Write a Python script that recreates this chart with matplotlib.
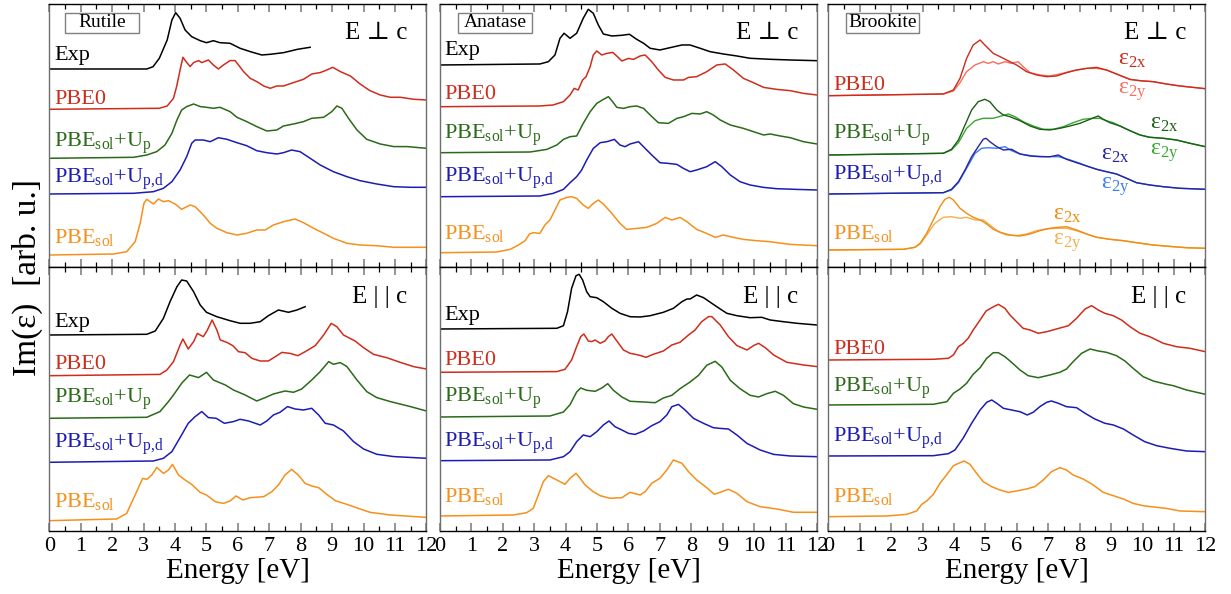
import matplotlib
matplotlib.use("Agg")
import matplotlib.pyplot as plt
from matplotlib.ticker import MultipleLocator
from matplotlib.patches import Rectangle

plt.rcParams["font.family"] = ["Liberation Serif", "DejaVu Serif"]
plt.rcParams["mathtext.fontset"] = "custom"
plt.rcParams["mathtext.rm"] = "Liberation Serif"
plt.rcParams["mathtext.it"] = "Liberation Serif:italic"
plt.rcParams["mathtext.bf"] = "Liberation Serif:bold"

# ---------------------------------------------------------------------------
# Im(eps) spectra, energy in eV, intensity in arbitrary units
# ---------------------------------------------------------------------------

# Rutile, E perpendicular to c
rut_perp_exp_e = [0, 3.1, 3.3, 3.5, 3.75, 3.9, 4.02, 4.16, 4.32, 4.53, 4.8, 5.0, 5.22, 5.43, 5.75, 6.07, 6.4, 6.76, 7.03, 7.45, 7.9, 8.3]
rut_perp_exp_i = [0, 0, 2.3, 10.7, 29, 49, 56.3, 50.7, 39, 32.3, 28.3, 26.3, 28.3, 26.3, 25.7, 20.7, 17.3, 14, 14.7, 16.3, 19.7, 21.7]
rut_perp_pbe0_e = [0, 3.5, 3.75, 3.95, 4.05, 4.16, 4.25, 4.35, 4.48, 4.59, 4.75, 4.85, 5.06, 5.22, 5.38, 5.54, 5.75, 5.91, 6.02, 6.18, 6.39, 6.6, 6.82, 7.03, 7.24, 7.45, 7.77, 8.09, 8.35, 8.62, 8.83, 9.02, 9.26, 9.58, 9.89, 10.2, 10.53, 10.85, 11.17, 11.6, 12]
rut_perp_pbe0_i = [0, 1, 3.3, 11, 22.7, 39.3, 52, 47.7, 42.7, 46.7, 48.7, 46.7, 49.3, 44.3, 40.3, 44.3, 48.7, 48.7, 44.3, 37.7, 31, 27.7, 23.3, 21, 23.3, 23.3, 26.7, 30, 35.3, 36.7, 39.3, 42, 37.7, 33.3, 25.3, 18.7, 14.3, 12, 12, 10, 9.3]
rut_perp_up_e = [0, 2.68, 3.1, 3.42, 3.68, 3.9, 4.06, 4.21, 4.37, 4.59, 4.8, 5.0, 5.22, 5.43, 5.75, 5.97, 6.28, 6.6, 6.92, 7.24, 7.45, 7.77, 8.09, 8.35, 8.73, 8.99, 9.15, 9.31, 9.52, 9.79, 10.1, 10.53, 10.96, 11.38, 12]
rut_perp_up_i = [0, 1, 3.3, 6.7, 13.3, 25, 38.3, 48.3, 51.7, 54.3, 51.7, 51, 50, 51, 46.7, 41, 36.7, 31.7, 27.3, 28.3, 32.3, 34.3, 36.7, 40, 41, 46.7, 52.3, 50, 40, 28.3, 19, 14.3, 11.7, 11.7, 10]
rut_perp_upd_e = [0, 2.68, 3.31, 3.63, 3.9, 4.16, 4.37, 4.53, 4.64, 4.9, 5.12, 5.38, 5.65, 5.97, 6.28, 6.6, 6.92, 7.24, 7.45, 7.71, 7.98, 8.3, 8.62, 9.04, 9.47, 9.89, 10.42, 10.96, 11.5, 12]
rut_perp_upd_i = [0, 0.7, 2.3, 5.7, 12.3, 24, 37.3, 50.7, 54, 54, 52.3, 56.3, 54.7, 51.3, 48.3, 43.3, 41.3, 40, 41.3, 44, 42.3, 35.7, 29, 22.3, 17.3, 13.3, 10, 7.3, 6.7, 6.7]
rut_perp_sol_e = [0, 2.04, 2.46, 2.73, 2.89, 3.01, 3.1, 3.31, 3.47, 3.63, 3.79, 4.0, 4.21, 4.48, 4.64, 4.9, 5.12, 5.33, 5.65, 5.97, 6.28, 6.6, 6.87, 7.13, 7.45, 7.82, 8.09, 8.41, 8.73, 9.04, 9.47, 9.89, 10.42, 10.96, 12]
rut_perp_sol_i = [0, 1, 3.3, 13.3, 31.7, 51.7, 55.7, 51, 56, 53.3, 54.3, 51, 45.7, 50, 48.3, 40, 31.7, 26.7, 22.3, 20, 21.7, 25, 25, 30, 33.3, 36, 32.3, 26.7, 21.7, 16.7, 11.7, 10, 9.3, 7.7, 7.7]

# Rutile, E parallel to c
rut_par_exp_e = [0, 3.1, 3.37, 3.63, 3.84, 4.06, 4.21, 4.37, 4.59, 4.8, 5.0, 5.33, 5.75, 6.07, 6.39, 6.71, 6.97, 7.29, 7.61, 7.88, 8.14]
rut_par_exp_i = [0, 0.7, 4, 16.7, 33.3, 48.3, 55, 54, 43.3, 30, 22.7, 18.3, 14.3, 11.7, 11.7, 13.3, 19.3, 25, 22.7, 25, 28.3]
rut_par_pbe0_e = [0, 3.52, 3.74, 3.95, 4.16, 4.25, 4.42, 4.59, 4.71, 4.9, 5.03, 5.18, 5.33, 5.44, 5.65, 5.84, 6.02, 6.23, 6.45, 6.71, 6.97, 7.19, 7.4, 7.66, 7.91, 8.14, 8.46, 8.73, 8.97, 9.15, 9.36, 9.73, 10.0, 10.32, 10.74, 11.17, 11.6, 12]
rut_par_pbe0_i = [0, 1.3, 5.7, 14, 30.7, 36.7, 26.7, 34, 42.3, 39, 45.7, 55.7, 45.7, 35.7, 33.3, 30, 24, 23, 17.3, 14.7, 14.7, 19, 23.3, 22.3, 20, 24, 30, 40.7, 52.3, 49, 40.7, 34.7, 28, 21.3, 18, 13.3, 9, 6.7]
rut_par_up_e = [0, 3.1, 3.52, 3.79, 3.95, 4.21, 4.46, 4.75, 5.0, 5.22, 5.6, 5.86, 6.23, 6.6, 6.87, 7.13, 7.5, 7.77, 8.03, 8.35, 8.62, 8.89, 9.04, 9.26, 9.47, 9.79, 10.1, 10.42, 10.85, 11.49, 12]
rut_par_up_i = [0, 1, 6.7, 16.7, 23.3, 35, 43.3, 40.7, 46, 38.3, 33.3, 28.3, 23.3, 17.3, 20.7, 24.3, 27.3, 26, 29.3, 38.3, 46.7, 56.7, 54, 55.7, 51.7, 38.3, 26.7, 20.7, 16.7, 11.7, 7.3]
rut_par_upd_e = [0, 3.31, 3.63, 3.9, 4.16, 4.42, 4.64, 4.85, 5.06, 5.31, 5.57, 5.86, 6.07, 6.34, 6.71, 6.92, 7.13, 7.34, 7.58, 7.82, 8.09, 8.35, 8.57, 8.78, 9.04, 9.36, 9.68, 10.0, 10.42, 10.96, 12]
rut_par_upd_i = [0, 1.3, 4, 10.7, 24.7, 39, 45.7, 50.7, 44.7, 44, 39, 40.7, 43, 41.3, 37.3, 41.3, 47.3, 50, 55.7, 53.3, 52.3, 54, 47.3, 39, 37.3, 31.3, 20.7, 13.3, 8, 5.7, 4]
rut_par_sol_e = [0, 2.14, 2.46, 2.73, 2.97, 3.1, 3.26, 3.42, 3.63, 3.79, 3.92, 4.11, 4.32, 4.53, 4.8, 5.0, 5.28, 5.54, 5.75, 5.94, 6.16, 6.39, 6.82, 7.08, 7.29, 7.5, 7.71, 7.92, 8.14, 8.35, 8.57, 8.83, 9.1, 9.47, 9.89, 10.21, 10.85, 12]
rut_par_sol_i = [0, 1.7, 7.3, 25.7, 42.3, 41.3, 45.7, 53.3, 47.3, 50.7, 56.3, 45.7, 40.7, 36.3, 28.3, 25.7, 19, 17.3, 19.7, 24.7, 20.7, 23, 24, 29, 35.7, 45.7, 51.3, 45.7, 37.3, 34.7, 33, 26.3, 20, 16.3, 11.7, 8.3, 5.7, 3.3]

# Anatase, E perpendicular to c
ana_perp_exp_e = [0, 3.18, 3.45, 3.66, 3.82, 3.95, 4.14, 4.35, 4.56, 4.72, 4.88, 5.04, 5.2, 5.47, 5.79, 6.03, 6.26, 6.48, 6.69, 7.0, 7.32, 7.7, 7.96, 8.28, 8.6, 9.02, 9.45, 9.87, 10.5, 11.15, 12]
ana_perp_exp_i = [0, 1, 3.3, 10, 26.7, 31.7, 26.7, 31.7, 46.7, 55.7, 51.7, 40, 31, 29, 29.7, 30.7, 25.7, 21.7, 16.7, 15, 17.3, 20, 20, 16.7, 13.3, 11, 9, 6.7, 5.7, 5, 4.3]
ana_perp_pbe0_e = [0, 3.18, 3.6, 3.93, 4.14, 4.27, 4.4, 4.54, 4.65, 4.78, 4.88, 4.99, 5.15, 5.31, 5.5, 5.65, 5.79, 6.0, 6.16, 6.37, 6.53, 6.74, 6.95, 7.17, 7.43, 7.75, 7.91, 8.17, 8.49, 8.81, 9.08, 9.34, 9.66, 9.98, 10.3, 10.72, 11.15, 11.57, 12]
ana_perp_pbe0_i = [0, 0.7, 1.7, 5, 11.7, 18.3, 16.7, 26.7, 30, 40, 51.7, 55.7, 51.7, 53.3, 54.3, 50, 45.7, 48.3, 47.3, 50.7, 51.7, 45, 36.7, 29.3, 26.7, 26.7, 29.3, 30, 35, 41.7, 42.7, 36.7, 28.3, 24, 19.3, 17.3, 16, 13.3, 11.7]
ana_perp_up_e = [0, 2.87, 3.4, 3.72, 3.93, 4.14, 4.35, 4.56, 4.78, 4.99, 5.2, 5.36, 5.47, 5.63, 5.84, 6.05, 6.26, 6.48, 6.69, 6.95, 7.27, 7.54, 7.75, 8.02, 8.28, 8.49, 8.7, 8.92, 9.24, 9.66, 9.98, 10.3, 10.51, 10.83, 11.15, 11.57, 12]
ana_perp_up_i = [0, 0.7, 3.3, 7.7, 13.3, 16, 16.7, 29.3, 41, 49.3, 53.3, 56, 52, 45.3, 44.3, 46, 46.7, 44.3, 37.7, 30, 29.3, 34.3, 36, 39.3, 38.7, 41, 37.7, 32.7, 27.7, 24.3, 21, 17.7, 18.7, 16.7, 15, 11, 8.7]
ana_perp_upd_e = [0, 3.18, 3.6, 3.93, 4.14, 4.35, 4.51, 4.67, 4.88, 5.1, 5.31, 5.55, 5.73, 5.89, 6.05, 6.32, 6.53, 6.74, 7.0, 7.27, 7.54, 7.75, 7.96, 8.17, 8.49, 8.76, 8.97, 9.24, 9.55, 9.87, 10.3, 10.72, 11.36, 12]
ana_perp_upd_i = [0, 0.7, 3.3, 7.3, 14, 20, 26.7, 36.7, 48.3, 54, 55, 57.3, 51.7, 50, 52.7, 55, 48.3, 41.7, 34, 33.3, 32.3, 28.3, 25, 26.7, 30, 35, 30, 21.7, 15, 11.7, 9.3, 8, 7.3, 6.7]
ana_perp_sol_e = [0, 1.8, 2.23, 2.5, 2.71, 2.85, 2.97, 3.18, 3.34, 3.5, 3.66, 3.82, 4.03, 4.19, 4.35, 4.56, 4.72, 4.88, 5.04, 5.2, 5.47, 5.73, 5.94, 6.26, 6.58, 6.9, 7.17, 7.38, 7.64, 7.86, 8.17, 8.49, 8.76, 9.02, 9.34, 9.66, 10.08, 10.5, 11.15, 12]
ana_perp_sol_i = [0, 0.7, 3.3, 7.7, 12, 18.7, 20, 19.3, 27.7, 32.7, 42.7, 52.7, 55.3, 56, 54.3, 47.7, 44.3, 49.3, 52.7, 48.7, 39.3, 29.3, 23.3, 24.3, 25.3, 29.3, 35.3, 32.7, 35.3, 31, 23.3, 19.3, 15.3, 17.7, 15.3, 13.3, 12, 11, 8.3, 7]

# Anatase, E parallel to c
ana_par_exp_e = [0, 3.72, 3.93, 4.06, 4.19, 4.33, 4.43, 4.54, 4.67, 4.78, 4.99, 5.2, 5.47, 5.73, 6.05, 6.37, 6.69, 7.11, 7.43, 7.7, 7.86, 7.96, 8.17, 8.39, 8.65, 8.92, 9.13, 9.45, 9.87, 10.24, 10.51, 10.93, 11.36, 12]
ana_par_exp_i = [0, 0.7, 3.3, 17.3, 40.7, 53.3, 54.7, 49, 37.3, 32.3, 31.3, 27.3, 20.7, 15.7, 12.3, 12, 13.3, 16.7, 20.7, 27.3, 30, 30, 34, 31.3, 25.7, 20, 15.7, 13.3, 11.3, 11.7, 9, 7.3, 5.7, 4]
ana_par_pbe0_e = [0, 3.72, 3.98, 4.19, 4.35, 4.48, 4.58, 4.72, 4.83, 4.94, 5.1, 5.25, 5.36, 5.47, 5.63, 5.84, 6.05, 6.32, 6.56, 6.79, 7.11, 7.38, 7.64, 7.91, 8.12, 8.33, 8.55, 8.65, 8.92, 9.18, 9.45, 9.77, 9.98, 10.14, 10.35, 10.62, 11.04, 11.57, 12]
ana_par_pbe0_i = [0, 0.7, 3, 12.3, 25.7, 35.7, 38.3, 31.3, 30.7, 32.3, 29, 31.3, 35.7, 38.3, 31.3, 22.3, 19, 17.3, 15, 18, 21.3, 27.3, 30, 37.3, 42.3, 50.7, 55.7, 55.7, 47.3, 35.7, 26.7, 22.3, 26.7, 29, 24.7, 17.3, 10, 7.3, 5.7]
ana_par_up_e = [0, 3.5, 3.93, 4.14, 4.35, 4.48, 4.67, 4.94, 5.15, 5.34, 5.52, 5.79, 6.05, 6.48, 6.85, 7.11, 7.38, 7.64, 7.96, 8.23, 8.49, 8.76, 8.97, 9.24, 9.55, 9.87, 10.14, 10.4, 10.67, 10.93, 11.25, 11.57, 12]
ana_par_up_i = [0, 1, 5, 12.3, 25, 29, 26.7, 25.7, 29, 33.3, 26.7, 20, 15.7, 15, 14.3, 19, 21.7, 28.3, 35, 41.7, 51.7, 55.7, 50, 36.7, 28.3, 21.7, 20, 23.3, 25.7, 21.7, 13.3, 10, 7.7]
ana_par_upd_e = [0, 3.5, 3.93, 4.14, 4.35, 4.56, 4.78, 4.99, 5.2, 5.38, 5.57, 5.79, 6.0, 6.21, 6.48, 6.74, 7.0, 7.22, 7.38, 7.59, 7.8, 8.07, 8.39, 8.7, 8.92, 9.18, 9.45, 9.77, 10.19, 10.62, 11.15, 12]
ana_par_upd_i = [0, 0.7, 4, 9, 19, 25.7, 24, 29, 35.7, 39.7, 34, 30.7, 27.3, 26.3, 29.7, 35, 39, 45.7, 54, 56.3, 50.7, 42.3, 37.3, 33, 32.3, 31.7, 25.7, 17.3, 10.7, 6.3, 4.7, 4]
ana_par_sol_e = [0, 2.34, 2.76, 2.97, 3.13, 3.29, 3.45, 3.72, 3.98, 4.14, 4.33, 4.46, 4.62, 4.88, 5.1, 5.41, 5.79, 6.05, 6.37, 6.53, 6.74, 7.0, 7.22, 7.43, 7.7, 7.91, 8.17, 8.49, 8.73, 8.92, 9.18, 9.45, 9.77, 10.19, 10.72, 11.25, 12]
ana_par_sol_i = [0, 1, 3.3, 7.7, 21, 34.3, 40.3, 36, 31.7, 37.7, 42.7, 37.7, 31, 24.3, 20.3, 17.7, 18.3, 23.7, 21, 24.3, 32.7, 37.7, 46, 56, 52.7, 44.3, 36, 28.3, 21.7, 23.7, 26.7, 22.7, 14.3, 9.3, 7, 3.7, 3.7]

# Brookite, E perpendicular to c: eps_2x and eps_2y components
bro_perp_pbe0x_e = [0, 3.66, 3.98, 4.19, 4.4, 4.61, 4.83, 4.98, 5.25, 5.51, 5.78, 5.99, 6.31, 6.63, 6.95, 7.26, 7.58, 7.9, 8.22, 8.54, 8.85, 9.17, 9.6, 9.92, 10.34, 10.76, 11.19, 11.61, 12]
bro_perp_pbe0x_i = [0, 1.7, 5.7, 17.3, 37.3, 50.7, 55.7, 50.7, 42.3, 38.3, 34, 30.7, 24, 20.7, 19, 19.7, 23, 25.7, 27.3, 28.3, 25.7, 21.7, 16.3, 15, 14, 11.7, 9.7, 8.3, 7]
bro_perp_pbe0y_e = [0, 3.66, 3.98, 4.19, 4.4, 4.67, 4.93, 5.09, 5.25, 5.41, 5.62, 5.83, 6.04, 6.2, 6.42, 6.73, 7.05, 7.37, 7.79, 8.22, 8.54, 8.85, 9.17, 9.6, 9.92, 10.34, 10.76, 11.19, 11.61, 12]
bro_perp_pbe0y_i = [0, 1.7, 4.7, 13, 24, 30.7, 34, 32.3, 34, 31.7, 34, 32.3, 34, 29, 23, 20.7, 19.7, 21.7, 25, 27.3, 27.3, 25.7, 21.7, 16.3, 15, 14, 11.7, 9.7, 8.3, 7]
bro_perp_upx_e = [0, 3.66, 3.92, 4.14, 4.35, 4.56, 4.77, 4.98, 5.14, 5.36, 5.57, 5.78, 6.1, 6.42, 6.73, 7.05, 7.37, 7.69, 8.01, 8.27, 8.48, 8.59, 8.75, 8.96, 9.28, 9.6, 9.92, 10.23, 10.66, 11.08, 11.51, 12]
bro_perp_upx_i = [0, 1.7, 5.7, 15, 30, 45, 53.3, 55.7, 53.3, 45, 40, 38.3, 34.3, 29, 25.7, 25, 26.7, 29, 31.7, 35, 37.7, 39, 35.7, 32.3, 29, 24.3, 20, 17.7, 16.7, 15, 11.7, 8.3]
bro_perp_upy_e = [0, 3.66, 3.92, 4.14, 4.4, 4.67, 4.93, 5.25, 5.51, 5.73, 5.94, 6.2, 6.52, 6.84, 7.16, 7.48, 7.79, 8.11, 8.43, 8.64, 8.85, 9.07, 9.28, 9.6, 9.92, 10.23, 10.66, 11.08, 11.51, 12]
bro_perp_upy_i = [0, 1.7, 5, 12.3, 26.7, 34.3, 36.7, 36.7, 39, 41, 38.3, 33.3, 29, 25.7, 25.7, 28.3, 32.3, 35.7, 36.7, 36.7, 34.3, 32.3, 29, 24.3, 20, 17.7, 16.7, 15, 11.7, 8.3]
bro_perp_updx_e = [0, 3.66, 3.92, 4.14, 4.35, 4.56, 4.77, 4.93, 5.02, 5.14, 5.36, 5.57, 5.83, 6.1, 6.42, 6.73, 7.05, 7.32, 7.58, 7.9, 8.22, 8.54, 8.85, 9.17, 9.49, 9.81, 10.23, 10.66, 11.19, 12]
bro_perp_updx_i = [0, 1.3, 4.7, 12.3, 24, 37.3, 47.3, 54.7, 55.7, 52.3, 47.3, 44, 44.7, 40, 38, 37.3, 37.3, 39, 34.7, 31.3, 28, 24.7, 22.3, 20, 15.7, 11.3, 9, 7.3, 5.7, 4.7]
bro_perp_updy_e = [0, 3.66, 3.92, 4.14, 4.4, 4.67, 4.88, 5.09, 5.36, 5.62, 5.83, 6.1, 6.52, 6.95, 7.32, 7.63, 8.01, 8.22, 8.54, 8.85, 9.17, 9.49, 9.81, 10.23, 10.66, 11.19, 12]
bro_perp_updy_i = [0, 1.3, 4, 11.3, 25.7, 40.7, 45.7, 46.3, 45.7, 47.3, 43.3, 40, 38, 37.3, 37.3, 34.7, 30.7, 28, 24.7, 22.3, 20, 15.7, 11.3, 9, 7.3, 5.7, 4.7]
bro_perp_solx_e = [0, 2.39, 2.76, 2.92, 3.13, 3.34, 3.55, 3.71, 3.85, 3.98, 4.19, 4.4, 4.61, 4.88, 5.04, 5.25, 5.51, 5.78, 6.1, 6.42, 6.73, 7.05, 7.32, 7.58, 7.9, 8.22, 8.54, 8.96, 9.39, 9.81, 10.34, 10.98, 11.4, 12]
bro_perp_solx_i = [0, 0.7, 2.7, 6.7, 16.7, 30, 43.3, 50.7, 52.7, 50, 41.7, 36.7, 32.7, 29.3, 26, 20.7, 17.3, 15, 14, 16, 19.3, 21.7, 22.7, 23.3, 20, 16, 12.7, 10.7, 9.3, 7.3, 5, 3.3, 2.3, 1.7]
bro_perp_soly_e = [0, 2.39, 2.76, 2.92, 3.13, 3.39, 3.66, 3.92, 4.19, 4.4, 4.67, 4.93, 5.14, 5.41, 5.67, 5.99, 6.31, 6.63, 6.95, 7.26, 7.58, 7.9, 8.22, 8.54, 8.96, 9.39, 9.81, 10.34, 10.98, 11.4, 12]
bro_perp_soly_i = [0, 0.7, 2.7, 6, 15, 26.7, 32.7, 33.3, 31.7, 32.7, 30, 30, 25, 18.3, 15, 14.3, 16, 19.3, 21.3, 21.7, 21.7, 19.3, 16, 12.7, 10.7, 9.3, 7.3, 5, 3.3, 2.3, 1.7]

# Brookite, E parallel to c
bro_par_pbe0_e = [0, 3.34, 3.82, 3.98, 4.14, 4.3, 4.45, 4.61, 4.83, 5.02, 5.2, 5.41, 5.62, 5.78, 5.99, 6.2, 6.42, 6.68, 6.95, 7.26, 7.64, 7.9, 8.17, 8.38, 8.59, 8.8, 9.07, 9.33, 9.6, 9.92, 10.23, 10.66, 11.08, 11.51, 12]
bro_par_pbe0_i = [0, 0.7, 1.7, 5, 13.3, 16.7, 21.7, 30, 40, 49, 52.3, 55.7, 51.7, 45, 38.3, 31.7, 30, 26.7, 28.3, 31, 34.3, 41.7, 51, 54.3, 50, 46.7, 44.3, 40, 33.3, 26.7, 23.3, 16.7, 13.3, 11.7, 8.3]
bro_par_up_e = [0, 3.34, 3.77, 3.98, 4.19, 4.4, 4.61, 4.83, 5.04, 5.25, 5.41, 5.62, 5.83, 6.1, 6.36, 6.68, 7.05, 7.37, 7.58, 7.79, 8.06, 8.33, 8.59, 8.85, 9.17, 9.44, 9.7, 10.02, 10.34, 10.76, 10.98, 11.4, 12]
bro_par_up_i = [0, 0.7, 3.3, 11.7, 16, 21.7, 30.7, 37.3, 46.7, 52.3, 52.3, 48.3, 42.7, 35, 29.3, 27.3, 30, 32.7, 36, 43.3, 51.7, 56, 54, 52.7, 49.3, 44, 36.7, 28.3, 24, 20.7, 19.3, 15, 10.7]
bro_par_upd_e = [0, 3.34, 3.82, 4.03, 4.3, 4.56, 4.83, 5.04, 5.2, 5.36, 5.57, 5.83, 6.1, 6.33, 6.52, 6.73, 6.95, 7.1, 7.32, 7.58, 7.9, 8.17, 8.48, 8.8, 9.07, 9.39, 9.7, 10.07, 10.45, 10.87, 11.4, 12]
bro_par_upd_i = [0, 0.3, 2.3, 6, 18.3, 32.7, 46, 53.7, 56, 52.7, 47.7, 46, 44.3, 41, 43.7, 49.3, 53.7, 55, 52.7, 49.3, 48.3, 42.7, 37, 32.7, 31, 27, 21, 14.3, 10.3, 7.7, 5, 4.3]
bro_par_sol_e = [0, 1.86, 2.49, 2.81, 2.97, 3.13, 3.34, 3.55, 3.76, 3.98, 4.14, 4.32, 4.51, 4.72, 4.93, 5.2, 5.46, 5.73, 5.99, 6.31, 6.57, 6.84, 7.1, 7.37, 7.58, 7.79, 8.11, 8.43, 8.75, 9.07, 9.39, 9.7, 10.02, 10.34, 10.76, 11.19, 12]
bro_par_sol_i = [0, 0.7, 2.3, 5.7, 12.3, 15.7, 22.3, 33.3, 41.7, 51, 53.3, 55.7, 52.3, 43.3, 35, 30, 26.7, 24.3, 25.7, 27.7, 30, 36.7, 45, 49, 46.7, 41.7, 37.7, 31.7, 24.3, 21, 17.7, 13.3, 11, 9.7, 8.3, 5.7, 5]

# ---------------------------------------------------------------------------
# Styling and layout
# ---------------------------------------------------------------------------
C_EXP = "black"
C_PBE0 = "#cf2d1c"
C_UP = "#2a6a18"
C_UPD = "#1c1cb4"
C_SOL = "#f5901c"
# Brookite eps_2x / eps_2y shades
CX = {"pbe0": "#cc2a1a", "up": "#1d5e16", "upd": "#26249e", "sol": "#f28a0e"}
CY = {"pbe0": "#fa6c5c", "up": "#36a832", "upd": "#3a7cf2", "sol": "#f6ae4c"}

LBL_EXP = "Exp"
LBL_PBE0 = "PBE0"
LBL_UP = r"PBE$_{\mathrm{sol}}$+U$_{\mathrm{p}}$"
LBL_UPD = r"PBE$_{\mathrm{sol}}$+U$_{\mathrm{p{,}d}}$"
LBL_SOL = r"PBE$_{\mathrm{sol}}$"

PERP = "E \u22a5 c"
PARA = "E | | c"

FS_LABEL = 16
FS_TICK = 16
FS_XLABEL = 21
FS_YLABEL = 24

fig = plt.figure(figsize=(12.31, 5.94), dpi=100)

col_x0 = [0.0401, 0.3574, 0.6729]
col_w = 0.3063
row_y0 = [0.5505, 0.1061]
row_h = [0.4428, 0.4444]
row_ylim = [263, 264]

axes = [[fig.add_axes([col_x0[c], row_y0[r], col_w, row_h[r]]) for c in range(3)] for r in range(2)]


def style_axis(ax, r):
    ax.set_xlim(0, 12)
    ax.set_ylim(0, row_ylim[r])
    ax.set_yticks([])
    ax.xaxis.set_major_locator(MultipleLocator(1))
    ax.xaxis.set_minor_locator(MultipleLocator(0.5))
    ax.tick_params(axis="x", which="major", direction="in", top=True, bottom=True,
                   length=6, width=1.3, color="#8c8c8c", labelsize=FS_TICK, pad=4)
    ax.tick_params(axis="x", which="minor", direction="in", top=True, bottom=True,
                   length=3.5, width=0.9, color="black")
    for side in ("left", "right"):
        ax.spines[side].set_color("#6e6e6e")
        ax.spines[side].set_linewidth(1.0)
    for side in ("top", "bottom"):
        ax.spines[side].set_color("black")
        ax.spines[side].set_linewidth(1.0)
    if r == 0:
        ax.tick_params(axis="x", labelbottom=False)
    else:
        ax.set_xticks(range(0, 13))
        ax.set_xlabel("Energy [eV]", fontsize=FS_XLABEL, labelpad=2)


def draw_stack(ax, curves, offsets, label_y):
    for (e, i, color, label), off, ly in zip(curves, offsets, label_y):
        ax.plot(e, [v + off for v in i], color=color, lw=1.1, solid_joinstyle="round")
        ax.text(0.012, ly, label, color=color, fontsize=FS_LABEL, transform=ax.transAxes,
                ha="left", va="baseline")


def phase_box(ax, name, x0, x1):
    ax.add_patch(Rectangle((x0, 0.890), x1 - x0, 0.076, transform=ax.transAxes,
                           fill=True, fc="white", ec="#808080", lw=1.0, zorder=3))
    ax.text((x0 + x1) / 2, 0.928, name, transform=ax.transAxes, fontsize=14,
            ha="center", va="center", zorder=4)


def polarization(ax, text, y):
    ax.text(0.95, y, text, transform=ax.transAxes, fontsize=18, ha="right", va="baseline")


for r in range(2):
    for c in range(3):
        style_axis(axes[r][c], r)

# Rutile
ax = axes[0][0]
draw_stack(ax,
           [(rut_perp_exp_e, rut_perp_exp_i, C_EXP, LBL_EXP),
            (rut_perp_pbe0_e, rut_perp_pbe0_i, C_PBE0, LBL_PBE0),
            (rut_perp_up_e, rut_perp_up_i, C_UP, LBL_UP),
            (rut_perp_upd_e, rut_perp_upd_i, C_UPD, LBL_UPD),
            (rut_perp_sol_e, rut_perp_sol_i, C_SOL, LBL_SOL)],
           [198, 157.7, 108.7, 73, 12],
           [0.787, 0.620, 0.458, 0.318, 0.090])
phase_box(ax, "Rutile", 0.042, 0.238)
polarization(ax, PERP, 0.865)

ax = axes[1][0]
draw_stack(ax,
           [(rut_par_exp_e, rut_par_exp_i, C_EXP, LBL_EXP),
            (rut_par_pbe0_e, rut_par_pbe0_i, C_PBE0, LBL_PBE0),
            (rut_par_up_e, rut_par_up_i, C_UP, LBL_UP),
            (rut_par_upd_e, rut_par_upd_i, C_UPD, LBL_UPD),
            (rut_par_sol_e, rut_par_sol_i, C_SOL, LBL_SOL)],
           [196, 155.3, 112.7, 68.7, 10.3],
           [0.774, 0.614, 0.484, 0.313, 0.090])
polarization(ax, PARA, 0.862)

# Anatase
ax = axes[0][1]
draw_stack(ax,
           [(ana_perp_exp_e, ana_perp_exp_i, C_EXP, LBL_EXP),
            (ana_perp_pbe0_e, ana_perp_pbe0_i, C_PBE0, LBL_PBE0),
            (ana_perp_up_e, ana_perp_up_i, C_UP, LBL_UP),
            (ana_perp_upd_e, ana_perp_upd_i, C_UPD, LBL_UPD),
            (ana_perp_sol_e, ana_perp_sol_i, C_SOL, LBL_SOL)],
           [202, 160.3, 114.3, 70.3, 14.3],
           [0.806, 0.639, 0.485, 0.325, 0.105])
phase_box(ax, "Anatase", 0.048, 0.244)
polarization(ax, PERP, 0.867)

ax = axes[1][1]
draw_stack(ax,
           [(ana_par_exp_e, ana_par_exp_i, C_EXP, LBL_EXP),
            (ana_par_pbe0_e, ana_par_pbe0_i, C_PBE0, LBL_PBE0),
            (ana_par_up_e, ana_par_up_i, C_UP, LBL_UP),
            (ana_par_upd_e, ana_par_upd_i, C_UPD, LBL_UPD),
            (ana_par_sol_e, ana_par_sol_i, C_SOL, LBL_SOL)],
           [202, 158.7, 114, 70.3, 15],
           [0.799, 0.629, 0.490, 0.319, 0.111])
polarization(ax, PARA, 0.865)

# Brookite, perpendicular: two in-plane components per method
ax = axes[0][2]
bro_perp = [
    ("pbe0", bro_perp_pbe0x_e, bro_perp_pbe0x_i, bro_perp_pbe0y_e, bro_perp_pbe0y_i, 171.3, LBL_PBE0, C_PBE0, 0.673),
    ("up", bro_perp_upx_e, bro_perp_upx_i, bro_perp_upy_e, bro_perp_upy_i, 112, LBL_UP, C_UP, 0.485),
    ("upd", bro_perp_updx_e, bro_perp_updx_i, bro_perp_updy_e, bro_perp_updy_i, 73, LBL_UPD, C_UPD, 0.331),
    ("sol", bro_perp_solx_e, bro_perp_solx_i, bro_perp_soly_e, bro_perp_soly_i, 17, LBL_SOL, C_SOL, 0.105),
]
eps_pos = {"pbe0": (0.768, 0.768, 0.660), "up": (0.852, 0.527, 0.426),
           "upd": (0.724, 0.407, 0.299), "sol": (0.596, 0.179, 0.084)}
for key, ex, ix, ey, iy, off, lbl, lc, ly in bro_perp:
    ax.plot(ey, [v + off for v in iy], color=CY[key], lw=1.0)
    ax.plot(ex, [v + off for v in ix], color=CX[key], lw=1.0)
    ax.text(0.013, ly, lbl, color=lc, fontsize=FS_LABEL, transform=ax.transAxes,
            ha="left", va="baseline")
    px, yx, yy = eps_pos[key]
    ax.text(px, yx, "\u03b5$_{\\mathrm{2x}}$", color=CX[key], fontsize=17,
            transform=ax.transAxes, ha="left", va="baseline")
    ax.text(px, yy, "\u03b5$_{\\mathrm{2y}}$", color=CY[key], fontsize=17,
            transform=ax.transAxes, ha="left", va="baseline")
phase_box(ax, "Brookite", 0.047, 0.240)
polarization(ax, PERP, 0.867)

ax = axes[1][2]
bro_par = [(bro_par_pbe0_e, bro_par_pbe0_i, C_PBE0, LBL_PBE0),
           (bro_par_up_e, bro_par_up_i, C_UP, LBL_UP),
           (bro_par_upd_e, bro_par_upd_i, C_UPD, LBL_UPD),
           (bro_par_sol_e, bro_par_sol_i, C_SOL, LBL_SOL)]
for (e, i, color, label), off, ly in zip(bro_par, [171, 126, 75, 14.3], [0.670, 0.525, 0.336, 0.111]):
    ax.plot(e, [v + off for v in i], color=color, lw=1.1)
    ax.text(0.013, ly, label, color=color, fontsize=FS_LABEL, transform=ax.transAxes,
            ha="left", va="baseline")
polarization(ax, PARA, 0.865)

fig.text(0.022, 0.532, "Im(\u03b5)  [arb. u.]", rotation=90, fontsize=FS_YLABEL,
         ha="center", va="center")

fig.savefig("out.png", dpi=100)
